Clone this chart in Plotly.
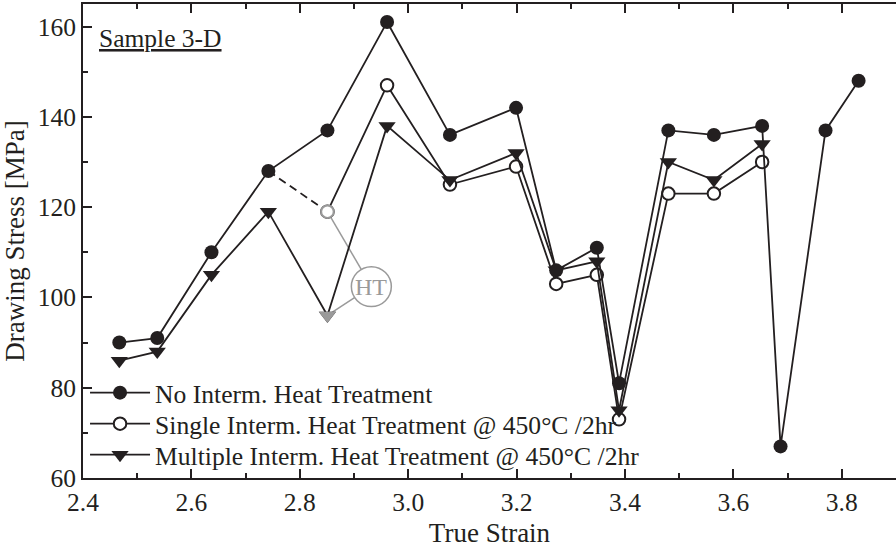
import plotly.graph_objects as go

# True strain at each drawing pass
strain = [2.467, 2.537, 2.637, 2.742, 2.851, 2.961, 3.077, 3.199, 3.273,
          3.348, 3.389, 3.480, 3.564, 3.653, 3.687, 3.770, 3.831]

# Drawing stress [MPa] for each processing route
no_ht = [90, 91, 110, 128, 137, 161, 136, 142, 106, 111, 81, 137, 136, 138, 67, 137, 148]
single_ht = [119, 147, 125, 129, 103, 105, 73, 123, 123, 130]      # from strain[4]
multi_ht = [86, 88, 105, 119, 96, 138, 126, 132, 106, 108, 75, 130, 126, 134]

single_start = 4          # index in strain where the single-HT route branches off
ht_index = 4              # pass at which the heat treatment is applied

# HT callout position (data units)
ht_label_x, ht_label_y = 2.932, 102.4

INK = "#231f20"
GREY = "#9a9a9a"
FONT = "Liberation Serif"
LW = 1.8

x_single = strain[single_start:single_start + len(single_ht)]
x_multi = strain[:len(multi_ht)]

fig = go.Figure()

# connector from the untreated curve to the first single-HT point
fig.add_trace(go.Scatter(
    x=[strain[single_start - 1], x_single[0]],
    y=[no_ht[single_start - 1], single_ht[0]],
    mode="lines", line=dict(color=INK, width=LW, dash="8px,5px"),
    showlegend=False, hoverinfo="skip"))

fig.add_trace(go.Scatter(
    x=x_single, y=single_ht, mode="lines+markers",
    name="Single Interm. Heat Treatment @ 450°C /2hr",
    line=dict(color=INK, width=LW),
    marker=dict(symbol="circle", size=12.5, color="white",
                line=dict(color=INK, width=2)),
    legend="legend2"))

fig.add_trace(go.Scatter(
    x=x_multi, y=multi_ht, mode="lines+markers",
    name="Multiple Interm. Heat Treatment @ 450°C /2hr",
    line=dict(color=INK, width=LW),
    marker=dict(symbol="triangle-down", size=15, color=INK, line=dict(width=0)),
    legend="legend3"))

fig.add_trace(go.Scatter(
    x=strain, y=no_ht, mode="lines+markers",
    name="No Interm. Heat Treatment",
    line=dict(color=INK, width=LW),
    marker=dict(symbol="circle", size=14, color=INK, line=dict(width=0)),
    legend="legend"))

# heat-treated points drawn in grey
fig.add_trace(go.Scatter(
    x=[x_single[0]], y=[single_ht[0]], mode="markers",
    marker=dict(symbol="circle", size=12.5, color="white", line=dict(color=GREY, width=2)),
    showlegend=False, hoverinfo="skip"))
fig.add_trace(go.Scatter(
    x=[strain[ht_index]], y=[multi_ht[ht_index]], mode="markers",
    marker=dict(symbol="triangle-down", size=15, color=GREY, line=dict(width=0)),
    showlegend=False, hoverinfo="skip"))

# HT callout: leader lines and circled label
shapes = []
for py in (single_ht[0], multi_ht[ht_index]):
    shapes.append(dict(type="line", xref="x", yref="y", layer="below",
                       x0=strain[ht_index], y0=py, x1=ht_label_x, y1=ht_label_y,
                       line=dict(color=GREY, width=1.5)))
rx, ry = 20 / 542.5, 20 / 4.523
shapes.append(dict(type="circle", xref="x", yref="y", layer="below",
                   x0=ht_label_x - rx, x1=ht_label_x + rx,
                   y0=ht_label_y - ry, y1=ht_label_y + ry,
                   fillcolor="white", line=dict(color=GREY, width=1.5)))

annotations = [
    dict(x=ht_label_x, y=ht_label_y, xref="x", yref="y", text="HT", showarrow=False,
         font=dict(family=FONT, size=24, color=GREY), xanchor="center", yanchor="middle"),
    dict(x=0.017, y=0.963, xref="paper", yref="paper", text="<u>Sample 3-D</u>",
         showarrow=False, xanchor="left", yanchor="top",
         font=dict(family=FONT, size=25.5, color=INK)),
]

axis_common = dict(
    showline=True, linecolor=INK, linewidth=2, ticks="inside", ticklen=9,
    tickwidth=1.5, tickcolor=INK, showgrid=False, zeroline=False,
    tickfont=dict(family=FONT, size=25.5, color=INK),
)

legend_common = dict(x=0.0025, xanchor="left", yanchor="middle",
                     bgcolor="rgba(0,0,0,0)", borderwidth=0,
                     font=dict(family=FONT, size=25.6, color=INK), itemwidth=60)

fig.update_layout(
    width=896, height=548,
    margin=dict(l=83, r=0, t=4, b=70),
    paper_bgcolor="white", plot_bgcolor="white",
    font=dict(family=FONT, color=INK),
    showlegend=True,
    legend=dict(y=0.1793, **legend_common),
    legend2=dict(y=0.1139, **legend_common),
    legend3=dict(y=0.0485, **legend_common),
    xaxis=dict(range=[2.4, 3.9], dtick=0.2, tickformat=".1f", mirror="ticks",
               minor=dict(ticks="inside", ticklen=5, dtick=0.1, tickcolor=INK, tickwidth=1.5),
               title=dict(text="True Strain", font=dict(family=FONT, size=27, color=INK),
                          standoff=8),
               **axis_common),
    yaxis=dict(range=[60, 165], dtick=20, mirror=False,
               minor=dict(ticks="inside", ticklen=5, dtick=10, tickcolor=INK, tickwidth=1.5),
               title=dict(text="Drawing Stress [MPa]", font=dict(family=FONT, size=27, color=INK),
                          standoff=6),
               **axis_common),
    yaxis2=dict(range=[60, 165], dtick=20, overlaying="y", side="right",
                showline=False, ticks="inside", ticklen=9, tickwidth=1.5, tickcolor=INK,
                showticklabels=False, showgrid=False, zeroline=False,
                minor=dict(ticks="inside", ticklen=5, dtick=10, tickcolor=INK, tickwidth=1.5)),
    shapes=shapes,
    annotations=annotations,
)

fig.write_html("out.html")
